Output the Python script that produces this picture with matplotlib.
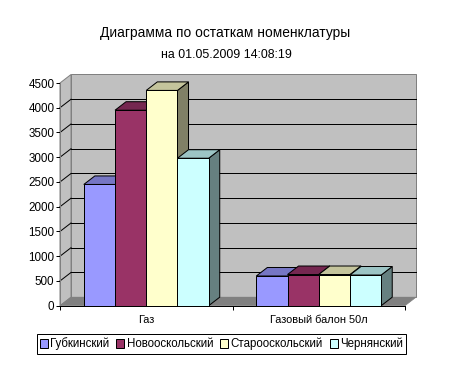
import matplotlib
matplotlib.use("Agg")
import matplotlib.pyplot as plt
from matplotlib.patches import Polygon, Patch

plt.rcParams["font.family"] = ["Liberation Sans", "DejaVu Sans"]

categories = ["Газ", "Газовый балон 50л"]
series_names = ["Губкинский", "Новооскольский", "Старооскольский", "Чернянский"]
gubkin = [2450, 600]
novoosk = [3950, 630]
staroosk = [4350, 630]
chern = [2980, 620]
y_ticks = [0, 500, 1000, 1500, 2000, 2500, 3000, 3500, 4000, 4500]

front_colors = ["#9999FF", "#993366", "#FFFFCC", "#CCFFFF"]
top_colors = ["#7676C4", "#752750", "#C4C49C", "#9CC4C4"]
side_colors = ["#666699", "#66223F", "#808066", "#668080"]

# depth of the fake 3d box, in data units
DX = 0.064
DY = 172
BAR_W = 0.181
Y_MAX = 4500
LINE = 0.72


def face(ax, pts, color, z, edge="black", lw=LINE):
    ax.add_patch(Polygon(pts, closed=True, facecolor=color, edgecolor=edge,
                         linewidth=lw, zorder=z, clip_on=False))


def draw_walls(ax):
    face(ax, [(DX, DY), (2 + DX, DY), (2 + DX, Y_MAX + DY), (DX, Y_MAX + DY)],
         "#C0C0C0", 1, edge="#808080", lw=LINE)
    face(ax, [(0, 0), (DX, DY), (DX, Y_MAX + DY), (0, Y_MAX)],
         "#C0C0C0", 1, edge="#808080", lw=LINE)
    face(ax, [(0, 0), (2, 0), (2 + DX, DY), (DX, DY)], "#808080", 1, edge="#808080", lw=0.5)
    for v in y_ticks[1:-1]:
        ax.plot([0, DX], [v, v + DY], color="black", lw=LINE, zorder=2, clip_on=False)
        ax.plot([DX, 2 + DX], [v + DY, v + DY], color="black", lw=LINE, zorder=2,
                clip_on=False, snap=True)


def draw_bars(ax, series):
    z = 3
    for c in range(len(categories)):
        left = c + 0.5 - 2 * BAR_W
        for s, values in enumerate(series):
            x0 = left + s * BAR_W
            x1 = x0 + BAR_W
            v = values[c]
            face(ax, [(x1, 0), (x1 + DX, DY), (x1 + DX, v + DY), (x1, v)], side_colors[s], z)
            face(ax, [(x0, v), (x1, v), (x1 + DX, v + DY), (x0 + DX, v + DY)], top_colors[s], z)
            ax.bar(x0, v, BAR_W, align="edge", color=front_colors[s], edgecolor="black",
                   linewidth=LINE, zorder=z + 0.5)
            z += 1


fig = plt.figure(figsize=(4.5, 3.88), dpi=100, facecolor="white")
ax = fig.add_axes([60 / 450, (388 - 305.7) / 388, 345 / 450, 222.7 / 388])
ax.set_xlim(0, 2)
ax.set_ylim(0, Y_MAX)
ax.patch.set_visible(False)
for name in ["top", "right"]:
    ax.spines[name].set_visible(False)
for name in ["left", "bottom"]:
    ax.spines[name].set_linewidth(LINE)
    ax.spines[name].set_zorder(20)
ax.spines["left"].set_color("#808080")

draw_walls(ax)
draw_bars(ax, [gubkin, novoosk, staroosk, chern])

ax.set_yticks(y_ticks)
ax.set_xticks([0, 1, 2])
ax.set_xticklabels([])
ax.set_xticks([0.5, 1.5], minor=True)
ax.set_xticklabels(categories, minor=True, fontsize=7.9)
ax.tick_params(axis="x", which="minor", length=0, pad=7)
ax.tick_params(axis="x", which="major", length=3, width=LINE)
ax.tick_params(axis="y", length=3, width=LINE, labelsize=8.4, pad=1)

fig.text(225 / 450, 1 - 32.5 / 388, "Диаграмма по остаткам номенклатуры",
         ha="center", va="center", fontsize=9.9)
fig.text(226 / 450, 1 - 55 / 388, "на 01.05.2009 14:08:19",
         ha="center", va="center", fontsize=8.9)

handles = [Patch(facecolor=c, edgecolor="black", linewidth=LINE) for c in front_colors]
leg = fig.legend(handles, series_names, ncol=4, loc="center",
                 bbox_to_anchor=(221.5 / 450, 1 - 344 / 388), fontsize=8.3,
                 frameon=True, fancybox=False, edgecolor="black", framealpha=1,
                 handlelength=0.7, handleheight=0.8, handletextpad=0.2,
                 columnspacing=0.6, borderpad=0.3, borderaxespad=0)
leg.get_frame().set_linewidth(LINE)

fig.savefig("out.png", dpi=100)
